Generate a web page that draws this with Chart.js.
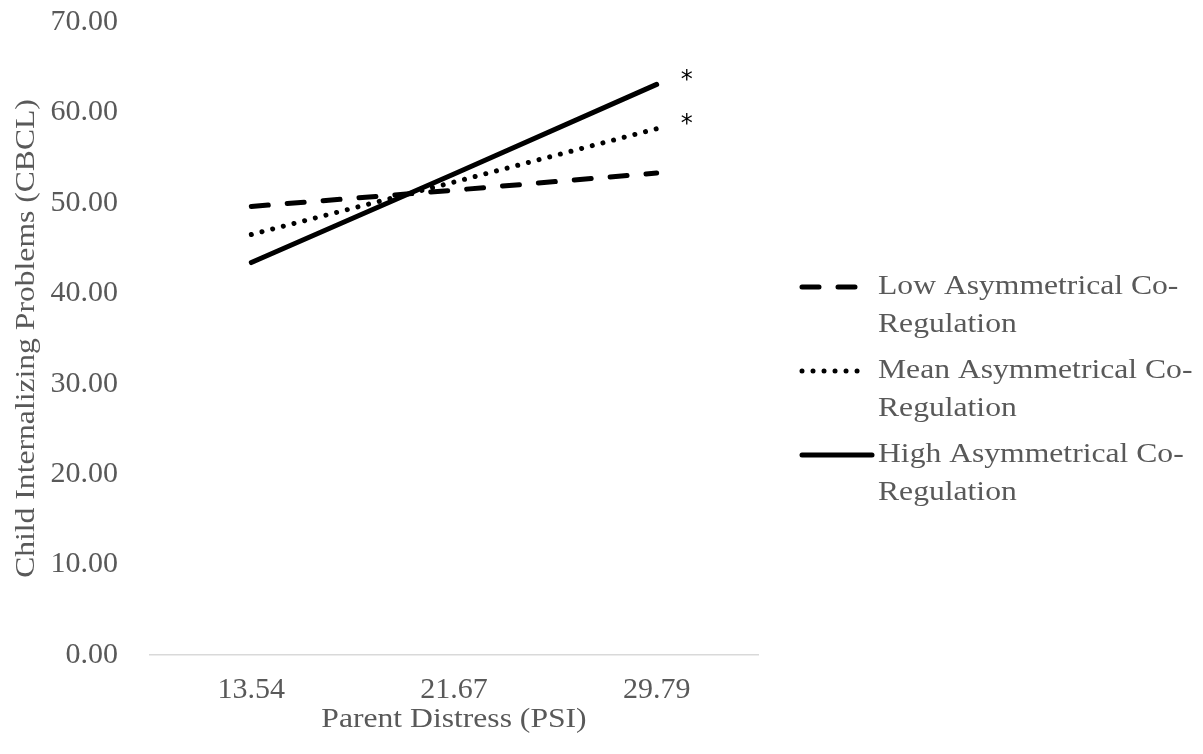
<!DOCTYPE html>
<html>
<head>
<meta charset="utf-8">
<script src="https://cdn.jsdelivr.net/npm/chart.js@4/dist/chart.umd.min.js"></script>
<style>
  html, body { margin: 0; padding: 0; background: #fff; }
  #wrap { width: 1203px; height: 754px; position: relative; }
</style>
</head>
<body>
<div id="wrap"><canvas id="chart"></canvas></div>
<script>
// --- data ---
const psiLevels = ['13.54', '21.67', '29.79'];
const lowCoReg  = [49.6, 51.4, 53.3];
const meanCoReg = [46.5, 52.3, 58.2];
const highCoReg = [43.4, 53.2, 63.1];
const seriesNames = [
  ['Low Asymmetrical Co-', 'Regulation'],
  ['Mean Asymmetrical Co-', 'Regulation'],
  ['High Asymmetrical Co-', 'Regulation']
];
const significant = [false, true, true];
const yTicks = [0, 10, 20, 30, 40, 50, 60, 70];
const xTitle = 'Parent Distress (PSI)';
const yTitle = 'Child Internalizing Problems (CBCL)';

const FONT = '"Liberation Serif", "Times New Roman", serif';
const GREY = '#595959';
const STRETCH = 1.15; // reference text is a bit wide

// stretched text helper
function wideText(ctx, text, x, y, rot) {
  ctx.save();
  ctx.translate(x, y);
  if (rot) ctx.rotate(rot);
  ctx.scale(STRETCH, 1);
  ctx.fillText(text, 0, 0);
  ctx.restore();
}

// axis titles + legend on the right, with wrapped text
const sideLegend = {
  id: 'sideLegend',
  afterDraw(chart) {
    const ctx = chart.ctx;
    const area = chart.chartArea;
    ctx.save();
    ctx.font = '27.5px ' + FONT;
    ctx.fillStyle = GREY;
    ctx.textBaseline = 'middle';

    ctx.textAlign = 'center';
    wideText(ctx, xTitle, (area.left + area.right) / 2, 720, 0);
    wideText(ctx, yTitle, 27, (area.top + area.bottom) / 2, -Math.PI / 2);

    chart.data.datasets.forEach((ds, i) => {
      const y = 287 + i * 84;
      ctx.beginPath();
      ctx.strokeStyle = ds.borderColor;
      ctx.lineWidth = ds.borderWidth;
      ctx.lineCap = ds.borderCapStyle || 'butt';
      ctx.setLineDash(ds.borderDash || []);
      ctx.moveTo(802, y);
      ctx.lineTo(ds.borderDash ? 866 : 872, y);
      ctx.stroke();
      ctx.setLineDash([]);
      ctx.fillStyle = GREY;
      ctx.textAlign = 'left';
      seriesNames[i].forEach((line, k) => wideText(ctx, line, 878, y + k * 38, 0));
    });
    ctx.restore();
  }
};

// significance asterisks at the end of lines
const stars = {
  id: 'stars',
  afterDatasetsDraw(chart) {
    const ctx = chart.ctx;
    ctx.save();
    ctx.font = '24px "DejaVu Sans", sans-serif';
    ctx.fillStyle = '#000';
    ctx.textAlign = 'center';
    ctx.textBaseline = 'middle';
    chart.data.datasets.forEach((ds, i) => {
      if (!significant[i]) return;
      const pts = chart.getDatasetMeta(i).data;
      const p = pts[pts.length - 1];
      ctx.fillText('*', p.x + 30, p.y - 4);
    });
    ctx.restore();
  }
};

const ctx = document.getElementById('chart').getContext('2d');
new Chart(ctx, {
  type: 'line',
  data: {
    labels: psiLevels,
    datasets: [
      { label: seriesNames[0].join(''), data: lowCoReg, borderColor: '#000', borderWidth: 5,
        borderDash: [17, 19], borderCapStyle: 'round', pointRadius: 0, tension: 0 },
      { label: seriesNames[1].join(''), data: meanCoReg, borderColor: '#000', borderWidth: 5,
        borderDash: [0.01, 11], borderCapStyle: 'round', pointRadius: 0, tension: 0 },
      { label: seriesNames[2].join(''), data: highCoReg, borderColor: '#000', borderWidth: 5,
        borderCapStyle: 'round', pointRadius: 0, tension: 0 }
    ]
  },
  options: {
    responsive: true,
    maintainAspectRatio: false,
    animation: false,
    layout: { padding: { top: 0, right: 445, left: 0, bottom: 0 } },
    plugins: {
      legend: { display: false },
      tooltip: { enabled: false }
    },
    scales: {
      x: {
        offset: true,
        afterFit: (scale) => { scale.height = 99; },
        grid: { display: false },
        border: { display: true, color: '#d9d9d9', width: 1.5 },
        ticks: { color: GREY, font: { family: FONT, size: 30 }, padding: 9,
                 maxRotation: 0, minRotation: 0 }
      },
      y: {
        min: 0,
        max: 70,
        afterFit: (scale) => {
          scale.width = 150;
          scale.paddingTop = 22;
          scale.paddingBottom = 0;
        },
        afterBuildTicks: (scale) => { scale.ticks = yTicks.map(v => ({ value: v })); },
        grid: { display: false },
        border: { display: false },
        ticks: { color: GREY, font: { family: FONT, size: 30 }, padding: 24,
                 callback: v => Number(v).toFixed(2) }
      }
    }
  },
  plugins: [sideLegend, stars]
});
</script>
</body>
</html>
